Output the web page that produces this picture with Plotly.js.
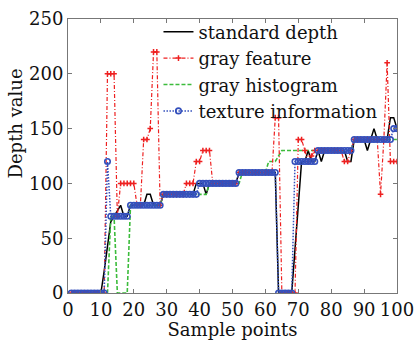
<!DOCTYPE html>
<html>
<head>
<meta charset="utf-8">
<script src="https://cdn.plot.ly/plotly-3.0.1.min.js"></script>
<style>html,body{margin:0;padding:0;background:#fff}#chart{width:415px;height:340px}</style>
</head>
<body>
<div id="chart"></div>
<script>
// Sample point indices
const samplePoints = Array.from({length: 100}, (_, i) => i + 1);

// standard depth
const standardDepth = [
  0,0,0,0,0,0,0,0,0,0,          // 1-10
  20,45,65,70,75,80,70,70,80,80, // 11-20
  80,80,80,90,90,80,80,80,90,90, // 21-30
  90,90,90,90,90,90,90,90,100,100, // 31-40
  100,90,100,100,100,100,100,100,100,100, // 41-50
  100,110,110,110,110,110,110,110,110,110, // 51-60
  110,110,110,0,0,0,0,0,40,80,   // 61-70
  120,120,130,120,120,130,120,130,130,130, // 71-80
  130,130,130,130,120,120,140,140,140,140, // 81-90
  130,140,150,140,140,140,140,160,160,150  // 91-100
];

// gray feature
const grayFeature = [
  0,0,0,0,0,0,0,0,0,0,           // 1-10
  0,200,200,200,70,100,100,100,100,100, // 11-20
  80,80,140,140,150,220,220,80,90,90,   // 21-30
  90,90,90,90,90,100,100,100,120,120,   // 31-40
  130,130,130,100,100,100,100,100,100,100, // 41-50
  100,110,110,110,110,110,110,110,110,110, // 51-60
  110,110,160,160,0,0,0,0,0,140,  // 61-70
  140,130,120,125,130,130,130,130,130,130, // 71-80
  130,130,130,120,120,130,140,140,140,140, // 81-90
  140,140,140,140,90,140,210,120,120,120   // 91-100
];

// gray histogram
const grayHistogram = [
  0,0,0,0,0,0,0,0,0,0,           // 1-10
  0,0,70,70,0,0,0,0,80,80,       // 11-20
  80,80,80,80,80,80,80,80,90,90, // 21-30
  90,90,90,90,90,90,90,90,90,90, // 31-40
  90,90,100,100,100,100,100,100,100,100, // 41-50
  100,100,110,110,110,110,110,110,110,110, // 51-60
  120,120,120,125,130,130,130,130,130,130, // 61-70
  130,130,130,130,130,130,130,130,130,130, // 71-80
  130,130,130,130,130,130,140,140,140,140, // 81-90
  140,140,140,140,140,140,140,140,140,140  // 91-100
];

// texture information
const textureInfo = [
  0,0,0,0,0,0,0,0,0,0,           // 1-10
  0,120,70,70,70,70,70,70,80,80, // 11-20
  80,80,80,80,80,80,80,80,90,90, // 21-30
  90,90,90,90,90,90,90,90,90,100, // 31-40
  100,100,100,100,100,100,100,100,100,100, // 41-50
  100,110,110,110,110,110,110,110,110,110, // 51-60
  110,110,110,0,0,0,0,0,120,120, // 61-70
  120,120,120,120,120,130,130,130,130,130, // 71-80
  130,130,130,130,130,130,140,140,140,140, // 81-90
  140,140,140,140,140,140,140,140,150,150  // 91-100
];

const seriesNames = ['standard depth', 'gray feature', 'gray histogram', 'texture information'];
const xTickVals = [0,10,20,30,40,50,60,70,80,90,100];
const yTickVals = [0,50,100,150,200,250];

const FONT = 'DejaVu Serif, Liberation Serif, serif';

const traces = [
  {x: samplePoints, y: standardDepth, name: seriesNames[0], mode: 'lines', legendrank: 1,
   line: {color: '#000000', width: 1.5}},
  {x: samplePoints, y: grayHistogram, name: seriesNames[2], mode: 'lines', legendrank: 3,
   line: {color: '#3cbc3c', width: 1.6, dash: '4px,2px'}},
  {x: samplePoints, y: grayFeature, name: seriesNames[1], mode: 'lines+markers', legendrank: 2,
   line: {color: '#ee2020', width: 1.2, dash: '4px,2px,1px,2px'},
   marker: {symbol: 'cross-thin-open', size: 4, line: {color: '#ee2020', width: 1.5}}},
  {x: samplePoints, y: textureInfo, name: seriesNames[3], mode: 'lines+markers', legendrank: 4,
   line: {color: '#3450bc', width: 1.5, dash: '1.5px,1.5px'},
   marker: {symbol: 'circle-open', size: 5.5, color: '#3450bc', line: {color: '#3450bc', width: 1.6}}}
];

const layout = {
  width: 415, height: 340,
  margin: {l: 68, r: 18, t: 19, b: 47},
  paper_bgcolor: '#ffffff', plot_bgcolor: '#ffffff',
  font: {family: FONT, size: 18, color: '#111'},
  showlegend: true,
  legend: {x: 0.275, y: 1.02, xanchor: 'left', yanchor: 'top', bgcolor: 'rgba(0,0,0,0)',
           borderwidth: 0, font: {family: FONT, size: 18, color: '#111'}, tracegroupgap: 0},
  xaxis: {range: [0, 100], tickvals: xTickVals, ticks: 'inside', ticklen: 4, tickcolor: '#777',
          showline: true, linecolor: '#777', linewidth: 1, mirror: 'ticks', showgrid: false, zeroline: false,
          tickfont: {family: FONT, size: 18}, title: {text: 'Sample points', font: {family: FONT, size: 18}, standoff: 2}},
  yaxis: {range: [0, 250], tickvals: yTickVals, ticks: 'inside', ticklen: 4, tickcolor: '#777',
          showline: true, linecolor: '#777', linewidth: 1, mirror: 'ticks', showgrid: false, zeroline: false,
          tickfont: {family: FONT, size: 18}},
  annotations: [{text: 'Depth value', xref: 'paper', yref: 'paper', x: -0.16, y: 0.62,
                 xanchor: 'center', yanchor: 'middle', textangle: -90, showarrow: false,
                 font: {family: FONT, size: 18, color: '#111'}}]
};

Plotly.newPlot('chart', traces, layout, {displayModeBar: false, staticPlot: true});
</script>
</body>
</html>
